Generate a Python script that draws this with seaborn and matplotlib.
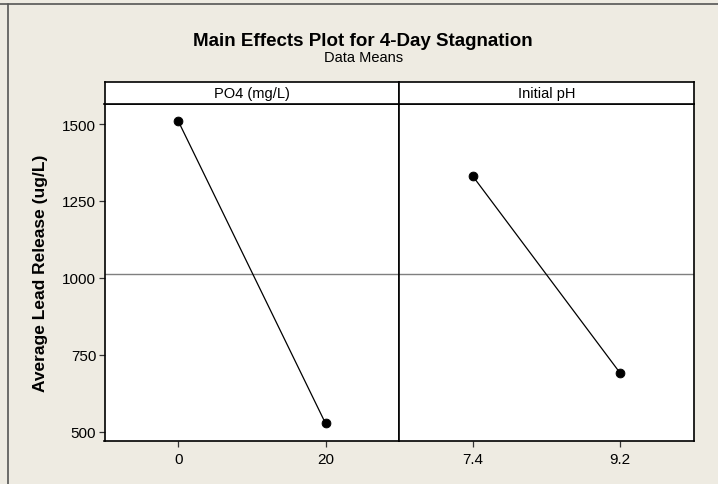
import matplotlib
matplotlib.use("Agg")
import matplotlib.pyplot as plt
import seaborn as sns
import pandas as pd

# Factor levels and mean responses
po4_levels = ["0", "20"]
po4_means = [1510, 527]
ph_levels = ["7.4", "9.2"]
ph_means = [1330, 690]
factor_names = ["PO4 (mg/L)", "Initial pH"]
grand_mean = 1012
y_ticks = [500, 750, 1000, 1250, 1500]

sns.set_theme(style="white")
plt.rcParams["font.family"] = ["Liberation Sans", "DejaVu Sans"]
plt.rcParams["text.color"] = "black"
plt.rcParams["xtick.color"] = "black"
plt.rcParams["ytick.color"] = "black"

bg = "#EEEBE2"
fig = plt.figure(figsize=(7.18, 4.85), dpi=100, facecolor=bg)

# frame lines along the top and left of the graph region
fig.add_artist(plt.Line2D([0.0, 1.0], [1 - 5 / 485, 1 - 5 / 485], color="#555555", lw=1.2,
                          transform=fig.transFigure))
fig.add_artist(plt.Line2D([7.5 / 718, 7.5 / 718], [0, 1 - 5 / 485], color="#555555", lw=1.2,
                          transform=fig.transFigure))

W, H = 718, 485
left, right = 104.5, 694
top, bottom = 104.7, 442
strip_top = 83.3
mid = (left + right) / 2

panels = [
    (factor_names[0], po4_levels, po4_means),
    (factor_names[1], ph_levels, ph_means),
]

for i, (name, levels, means) in enumerate(panels):
    x0 = left if i == 0 else mid
    x1 = mid if i == 0 else right
    ax = fig.add_axes([x0 / W, 1 - bottom / H, (x1 - x0) / W, (bottom - top) / H])
    ax.set_facecolor("white")
    df = pd.DataFrame({"level": levels, "mean": means})
    ax.axhline(grand_mean, color="#7f7f7f", lw=1.0, zorder=1)
    sns.pointplot(data=df, x="level", y="mean", order=levels, color="black",
                  errorbar=None, markers="o", markersize=6.3, linewidth=0.9, ax=ax)
    ax.set_xlim(-0.5, 1.5)
    ax.set_ylim(470, 1566)
    ax.set_xlabel("")
    ax.set_ylabel("")
    for s in ax.spines.values():
        s.set_color("black")
        s.set_linewidth(1.2)
    ax.tick_params(axis="x", direction="out", length=4, width=0.9, color="#333333",
                   labelsize=11, pad=4, bottom=True)
    if i == 0:
        ax.set_yticks(y_ticks)
        ax.tick_params(axis="y", direction="out", length=4, width=0.9, color="#333333",
                       labelsize=11, pad=2, left=True)
    else:
        ax.set_yticks([])
    # strip header
    sax = fig.add_axes([x0 / W, 1 - top / H, (x1 - x0) / W, (top - strip_top) / H])
    sax.set_facecolor("white")
    sax.set_xticks([])
    sax.set_yticks([])
    for s in sax.spines.values():
        s.set_color("black")
        s.set_linewidth(1.2)
    sax.text(0.5, 0.48, name, ha="center", va="center", fontsize=10.5, transform=sax.transAxes)

fig.text(0.506, 1 - 41 / H, "Main Effects Plot for 4-Day Stagnation", ha="center", va="center",
         fontsize=13.5, fontweight="bold")
fig.text(0.506, 1 - 58 / H, "Data Means", ha="center", va="center", fontsize=10.5)
fig.text(41 / W, 1 - ((top + bottom) / 2) / H, "Average Lead Release (ug/L)", rotation=90,
         ha="center", va="center", fontsize=12.5, fontweight="bold")

fig.savefig("out.png", dpi=100, facecolor=bg)
